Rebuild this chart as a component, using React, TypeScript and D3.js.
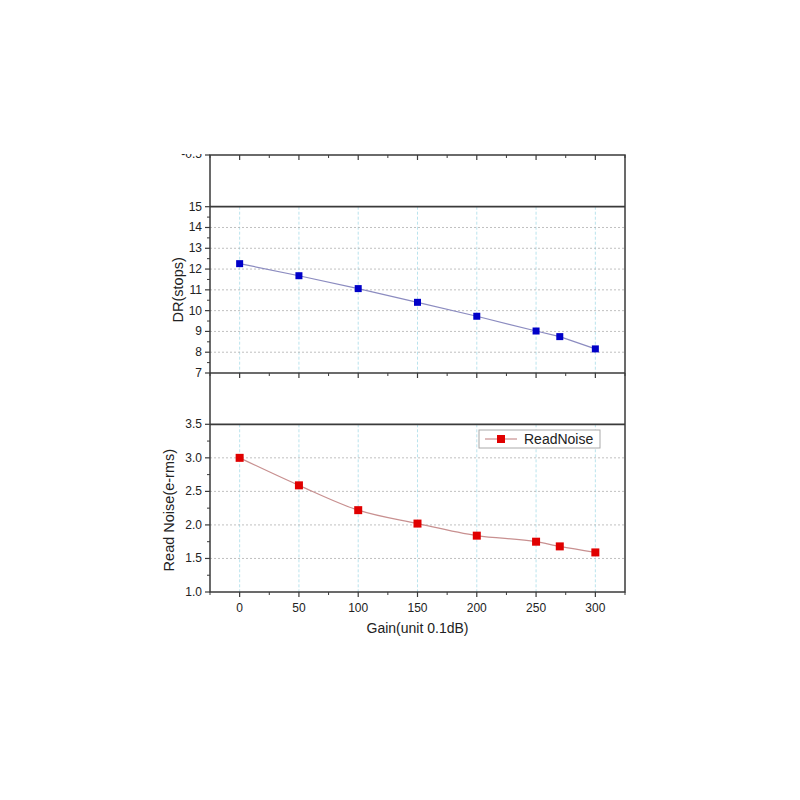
import React from "react";
import * as d3 from "d3";

const gains = [0, 50, 100, 150, 200, 250, 270, 300];
const drStops = [12.26, 11.68, 11.06, 10.4, 9.73, 9.02, 8.75, 8.16];
const readNoise = [3.0, 2.59, 2.22, 2.02, 1.84, 1.75, 1.68, 1.59];
const xTicks = [0, 50, 100, 150, 200, 250, 300];
const drTicks = [7, 8, 9, 10, 11, 12, 13, 14, 15];
const rnTicks = [1.0, 1.5, 2.0, 2.5, 3.0, 3.5];
const xLabel = "Gain(unit 0.1dB)";
const drLabel = "DR(stops)";
const rnLabel = "Read Noise(e-rms)";
const legendLabel = "ReadNoise";

const FONT = "'Liberation Sans', Arial, sans-serif";

export default function App() {
  const left = 210, right = 625;
  const top = 155, mid = 373, bottom = 592;
  const x = d3.scaleLinear().domain([-25, 325]).range([left, right]);
  const yDR = d3.scaleLinear().domain([7, 15]).range([mid, 206.7]);
  const yRN = d3.scaleLinear().domain([1, 3.5]).range([bottom, 424.3]);

  const drPts = gains.map((g, i) => [g, drStops[i]] as [number, number]);
  const rnPts = gains.map((g, i) => [g, readNoise[i]] as [number, number]);
  const drLine = d3.line<[number, number]>().x(d => x(d[0])).y(d => yDR(d[1]))(drPts) || "";
  const rnLine = d3.line<[number, number]>().curve(d3.curveMonotoneX).x(d => x(d[0])).y(d => yRN(d[1]))(rnPts) || "";

  const minorX = d3.range(-25, 326, 25).filter(v => v % 50 !== 0);
  const drMinor = d3.range(7.5, 15, 1);
  const rnMinor = d3.range(1.25, 3.5, 0.5);
  const axisColor = "#3a3a3a";
  const tickText = "#222";

  return (
    <svg width={800} height={800} style={{ display: "block", position: "absolute", left: 0, top: 0, background: "#fff" }}>
      <defs>
        <clipPath id="topclip" clipPathUnits="userSpaceOnUse">
          <rect x={0} y={154} width={800} height={30} />
        </clipPath>
      </defs>
      {/* vertical grid lines */}
      {xTicks.map(v => (
        <g key={"vg" + v}>
          <line x1={x(v)} x2={x(v)} y1={206.7} y2={mid} stroke="#a8dce8" strokeWidth={0.8} strokeDasharray="3,2" />
          <line x1={x(v)} x2={x(v)} y1={424.3} y2={bottom} stroke="#a8dce8" strokeWidth={0.8} strokeDasharray="3,2" />
        </g>
      ))}
      {/* horizontal grid lines */}
      {drTicks.filter(v => v !== 7 && v !== 15).map(v => (
        <line key={"hg1" + v} x1={left} x2={right} y1={yDR(v)} y2={yDR(v)} stroke="#b0b0b0" strokeWidth={0.8} strokeDasharray="2,2" />
      ))}
      {rnTicks.filter(v => v !== 1 && v !== 3.5).map(v => (
        <line key={"hg2" + v} x1={left} x2={right} y1={yRN(v)} y2={yRN(v)} stroke="#b0b0b0" strokeWidth={0.8} strokeDasharray="2,2" />
      ))}

      {/* frame */}
      <rect x={left} y={top} width={right - left} height={bottom - top} fill="none" stroke={axisColor} strokeWidth={1.5} />
      <line x1={left} x2={right} y1={206.7} y2={206.7} stroke={axisColor} strokeWidth={1.8} />
      <line x1={left} x2={right} y1={mid} y2={mid} stroke={axisColor} strokeWidth={1.5} />
      <line x1={left} x2={right} y1={424.3} y2={424.3} stroke={axisColor} strokeWidth={1.8} />

      {/* x ticks */}
      {xTicks.map(v => (
        <g key={"tt" + v}>
          <line x1={x(v)} x2={x(v)} y1={top} y2={top + 5} stroke={axisColor} strokeWidth={1.2} />
          <line x1={x(v)} x2={x(v)} y1={mid} y2={mid + 5} stroke={axisColor} strokeWidth={1.2} />
          <line x1={x(v)} x2={x(v)} y1={bottom} y2={bottom + 5} stroke={axisColor} strokeWidth={1.2} />
          <text x={x(v)} y={bottom + 20} textAnchor="middle" fontFamily={FONT} fontSize={12} fill={tickText}>{v}</text>
        </g>
      ))}
      {minorX.map(v => (
        <g key={"mt" + v}>
          <line x1={x(v)} x2={x(v)} y1={top} y2={top + 3} stroke={axisColor} strokeWidth={1} />
          <line x1={x(v)} x2={x(v)} y1={mid} y2={mid + 3} stroke={axisColor} strokeWidth={1} />
          <line x1={x(v)} x2={x(v)} y1={bottom} y2={bottom + 3} stroke={axisColor} strokeWidth={1} />
        </g>
      ))}

      {/* left axis DR */}
      {drTicks.map(v => (
        <g key={"dl" + v}>
          <line x1={left - 5} x2={left} y1={yDR(v)} y2={yDR(v)} stroke={axisColor} strokeWidth={1.2} />
          <text x={left - 8} y={yDR(v) + 4} textAnchor="end" fontFamily={FONT} fontSize={12} fill={tickText}>{v}</text>
        </g>
      ))}
      {drMinor.map(v => (
        <line key={"dm" + v} x1={left - 3} x2={left} y1={yDR(v)} y2={yDR(v)} stroke={axisColor} strokeWidth={1} />
      ))}
      <line x1={left - 5} x2={left} y1={top} y2={top} stroke={axisColor} strokeWidth={1.2} />
      <g clipPath="url(#topclip)">
        <text x={left - 8} y={top + 3} textAnchor="end" fontFamily={FONT} fontSize={12} fill={tickText}>-0.5</text>
      </g>

      {/* left axis RN */}
      {rnTicks.map(v => (
        <g key={"rl" + v}>
          <line x1={left - 5} x2={left} y1={yRN(v)} y2={yRN(v)} stroke={axisColor} strokeWidth={1.2} />
          <text x={left - 8} y={yRN(v) + 4} textAnchor="end" fontFamily={FONT} fontSize={12} fill={tickText}>{v.toFixed(1)}</text>
        </g>
      ))}
      {rnMinor.map(v => (
        <line key={"rm" + v} x1={left - 3} x2={left} y1={yRN(v)} y2={yRN(v)} stroke={axisColor} strokeWidth={1} />
      ))}

      {/* series */}
      <path d={drLine} fill="none" stroke="#8c8cc0" strokeWidth={1.2} />
      {drPts.map(d => (
        <rect key={"dp" + d[0]} x={x(d[0]) - 3.5} y={yDR(d[1]) - 3.5} width={7} height={7} fill="#0000c8" />
      ))}
      <path d={rnLine} fill="none" stroke="#c89090" strokeWidth={1.2} />
      {rnPts.map(d => (
        <rect key={"rp" + d[0]} x={x(d[0]) - 4} y={yRN(d[1]) - 4} width={8} height={8} fill="#e00000" />
      ))}

      {/* legend */}
      <rect x={479} y={430} width={121} height={18} fill="#fff" stroke="#aaa" strokeWidth={1} />
      <line x1={485} x2={517} y1={439} y2={439} stroke="#c89090" strokeWidth={1.2} />
      <rect x={497} y={435} width={8} height={8} fill="#e00000" />
      <text x={524} y={444} fontFamily={FONT} fontSize={14} fill="#222">{legendLabel}</text>

      {/* axis titles */}
      <text transform={`translate(183,${(206.7 + mid) / 2}) rotate(-90)`} textAnchor="middle" fontFamily={FONT} fontSize={14.5} fill="#222">{drLabel}</text>
      <text transform={`translate(174,${(424.3 + bottom) / 2 + 2}) rotate(-90)`} textAnchor="middle" fontFamily={FONT} fontSize={14.5} fill="#222">{rnLabel}</text>
      <text x={(left + right) / 2} y={633} textAnchor="middle" fontFamily={FONT} fontSize={14} fill="#222">{xLabel}</text>
    </svg>
  );
}
